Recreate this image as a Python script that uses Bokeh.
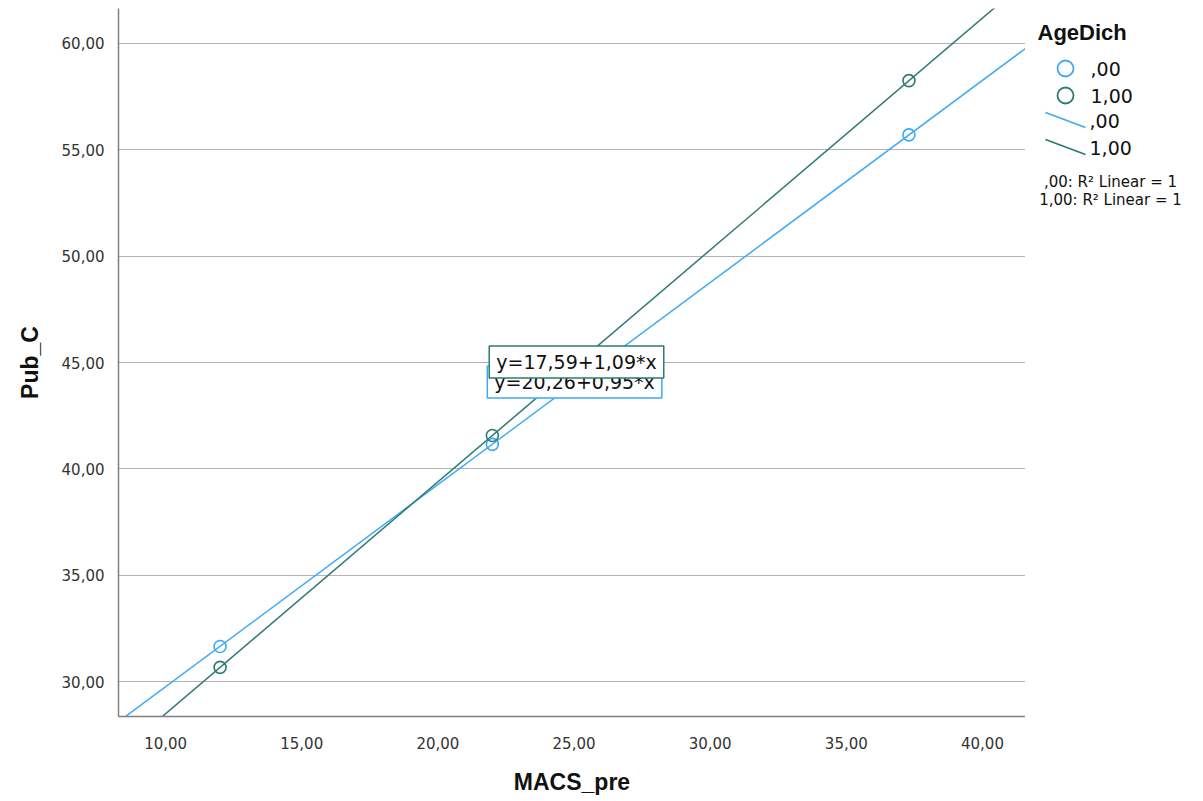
from bokeh.plotting import figure
from bokeh.models import Range1d, FixedTicker, Label
from bokeh.layouts import row
from bokeh.core.properties import value
from bokeh.embed import file_html
from bokeh.resources import INLINE

# ---- data ----
groups = [",00", "1,00"]
colors = ["#3fa9f5", "#2e7b73"]
macs_pre = [12.0, 22.0, 37.3]
pub_c_g0 = [31.65, 41.15, 55.70]
pub_c_g1 = [30.67, 41.57, 58.25]
intercepts = [20.26, 17.59]
slopes = [0.95, 1.09]
equations = ["y=20,26+0,95*x", "y=17,59+1,09*x"]
r2_texts = [",00: R\u00b2 Linear = 1", "1,00: R\u00b2 Linear = 1"]
legend_title = "AgeDich"
x_ticks = [10, 15, 20, 25, 30, 35, 40]
x_tick_labels = ["10,00", "15,00", "20,00", "25,00", "30,00", "35,00", "40,00"]
y_ticks = [30, 35, 40, 45, 50, 55, 60]
y_tick_labels = ["30,00", "35,00", "40,00", "45,00", "50,00", "55,00", "60,00"]

X_MIN, X_MAX = 8.27, 41.58
Y_MIN, Y_MAX = 28.36, 61.64
TOP, BOTTOM = 8, 85  # borders above / below the plotting frame

# ---------------- main chart ----------------
p = figure(width=1025, height=801, output_backend="svg", toolbar_location=None,
           x_range=Range1d(X_MIN, X_MAX), y_range=Range1d(Y_MIN, Y_MAX),
           min_border_left=118, min_border_right=0, min_border_top=TOP,
           min_border_bottom=BOTTOM)
p.outline_line_color = None
p.background_fill_color = "white"
p.border_fill_color = "white"

for ax in (p.xaxis[0], p.yaxis[0]):
    ax.major_tick_line_color = None
    ax.minor_tick_line_color = None
    ax.axis_line_color = "#808080"
    ax.axis_line_width = 1.5
    ax.major_label_text_font = "DejaVu Sans"
    ax.major_label_text_font_size = "15px"
    ax.major_label_text_color = "#333333"
    ax.axis_label_text_font = "Liberation Sans"
    ax.axis_label_text_font_style = "bold"
    ax.axis_label_text_font_size = "23px"
    ax.axis_label_text_color = "#111111"

p.xaxis.ticker = FixedTicker(ticks=x_ticks)
p.xaxis.major_label_overrides = {t: l for t, l in zip(x_ticks, x_tick_labels)}
p.yaxis.ticker = FixedTicker(ticks=y_ticks)
p.yaxis.major_label_overrides = {t: l for t, l in zip(y_ticks, y_tick_labels)}
p.xaxis.axis_label = "MACS_pre"
p.yaxis.axis_label = "Pub_C"
p.xaxis.major_label_standoff = 14
p.yaxis.major_label_standoff = 8
p.xaxis.axis_label_standoff = 17
p.yaxis.axis_label_standoff = 16

p.xgrid.grid_line_color = None
p.ygrid.grid_line_color = "#b4b4b4"
p.ygrid.grid_line_width = 1.2

for b0, b1, c in zip(intercepts, slopes, colors):
    xs = [X_MIN, X_MAX]
    ys = [b0 + b1 * X_MIN, b0 + b1 * X_MAX]
    p.line(xs, ys, line_color=c, line_width=1.5)

for ys, c in zip([pub_c_g0, pub_c_g1], colors):
    p.scatter(macs_pre, ys, marker="circle", size=12, fill_color=None,
              line_color=c, line_width=1.6)

eq_pos = [(25.02, 44.08), (25.09, 45.02)]
for (ex, ey), txt, c in zip(eq_pos, equations, colors):
    p.add_layout(Label(x=ex, y=ey, text=txt, text_align="center", text_baseline="middle",
                       text_font="DejaVu Sans", text_font_size="19px", text_color="#111111",
                       background_fill_color="white", border_line_color=c,
                       border_line_width=1.5, padding=(7, 5)))

# ---------------- legend panel (page-pixel space, frame aligned with main frame) ----------------
leg = figure(width=178, height=801, output_backend="svg", toolbar_location=None,
             x_range=Range1d(0, 178), y_range=Range1d(801 - BOTTOM, TOP),
             min_border_left=0, min_border_right=0,
             min_border_top=TOP, min_border_bottom=BOTTOM)
leg.axis.visible = False
leg.grid.visible = False
leg.outline_line_color = None
leg.background_fill_color = "white"
leg.border_fill_color = "white"

leg.text(x=[12], y=[32], text=[legend_title], text_font=value("Liberation Sans"),
         text_font_style="bold", text_font_size="22px", text_color="#111111",
         text_baseline="middle", text_align="left")

row_y_marker = [68, 95]
row_y_line = [120, 147]
leg.scatter(x=[40, 40], y=row_y_marker, marker="circle", size=16, fill_color=None,
            line_color=colors, line_width=1.8)
for yy, c in zip(row_y_line, colors):
    leg.line(x=[20, 60], y=[yy - 8, yy + 7], line_color=c, line_width=1.8)

leg.text(x=[65, 65], y=row_y_marker, text=groups, text_font=value("DejaVu Sans"),
         text_font_size="19px", text_color="#111111", text_baseline="middle", text_align="left")
leg.text(x=[64, 64], y=row_y_line, text=groups, text_font=value("DejaVu Sans"),
         text_font_size="19px", text_color="#111111", text_baseline="middle", text_align="left")

leg.text(x=[85, 85], y=[181, 199], text=r2_texts, text_font=value("DejaVu Sans"),
         text_font_size="15px", text_color="#111111", text_baseline="middle", text_align="center")

layout = row(p, leg, spacing=0)
open("out.html", "w").write(file_html(layout, INLINE))
